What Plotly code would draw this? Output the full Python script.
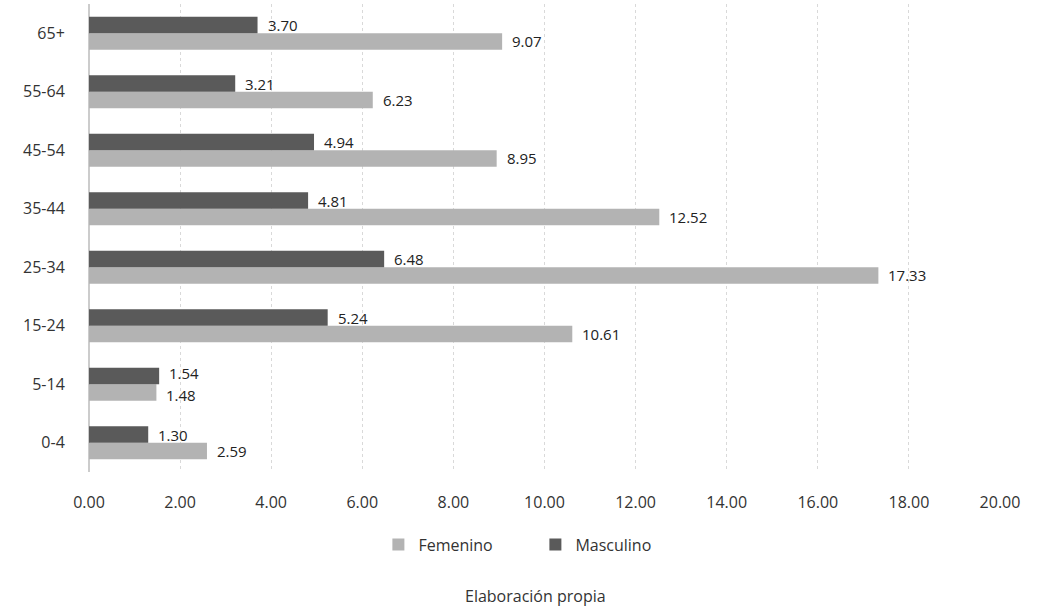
import plotly.graph_objects as go

categories = ["0-4", "5-14", "15-24", "25-34", "35-44", "45-54", "55-64", "65+"]
femenino = [2.59, 1.48, 10.61, 17.33, 12.52, 8.95, 6.23, 9.07]
masculino = [1.30, 1.54, 5.24, 6.48, 4.81, 4.94, 3.21, 3.70]
x_ticks = [0, 2, 4, 6, 8, 10, 12, 14, 16, 18, 20]

font = "Open Sans, Liberation Sans, sans-serif"
fig = go.Figure()
fig.add_trace(go.Bar(
    y=categories, x=femenino, orientation="h", name="Femenino",
    marker=dict(color="#b3b3b3", line=dict(width=0)),
))
fig.add_trace(go.Bar(
    y=categories, x=masculino, orientation="h", name="Masculino",
    marker=dict(color="#5a5a5a", line=dict(width=0)),
))

annotations = []
for cat, f, m in zip(categories, femenino, masculino):
    sep = 11 if abs(f - m) < 1.0 else 8
    annotations.append(dict(x=m, y=cat, xref="x", yref="y", text=f"{m:.2f}",
                            xanchor="left", xshift=8, yshift=sep, showarrow=False,
                            font=dict(size=15, color="#222222")))
    annotations.append(dict(x=f, y=cat, xref="x", yref="y", text=f"{f:.2f}",
                            xanchor="left", xshift=8, yshift=-sep, showarrow=False,
                            font=dict(size=15, color="#222222")))
annotations.append(dict(text="Elaboración propia", x=0.49, xref="paper", y=-0.265,
                        yref="paper", yanchor="middle", showarrow=False,
                        font=dict(size=16, color="#333333")))

fig.update_layout(
    width=1054, height=613,
    barmode="group", bargap=0.44, bargroupgap=0,
    plot_bgcolor="white", paper_bgcolor="white",
    margin=dict(l=89, r=54, t=4, b=141),
    font=dict(family=font, size=16, color="#333333"),
    xaxis=dict(range=[0, 20], tickvals=x_ticks,
               ticktext=[f"{v:.2f}" for v in x_ticks],
               showgrid=True, gridcolor="#d9d9d9", griddash="dot", gridwidth=1,
               zeroline=True, zerolinecolor="#cccccc", showline=False,
               ticks="outside", ticklen=16, tickcolor="rgba(0,0,0,0)",
               tickfont=dict(size=16, color="#333333")),
    yaxis=dict(showgrid=False, showline=False, ticks="outside", ticklen=20,
               tickcolor="rgba(0,0,0,0)",
               tickfont=dict(size=16, color="#333333")),
    legend=dict(orientation="h", x=0.49, xanchor="center", y=-0.155, yanchor="middle",
                font=dict(size=16, color="#333333"), traceorder="normal",
                itemwidth=30, entrywidthmode="pixels", entrywidth=112),
    showlegend=True,
    annotations=annotations,
)

fig.write_html("out.html")
